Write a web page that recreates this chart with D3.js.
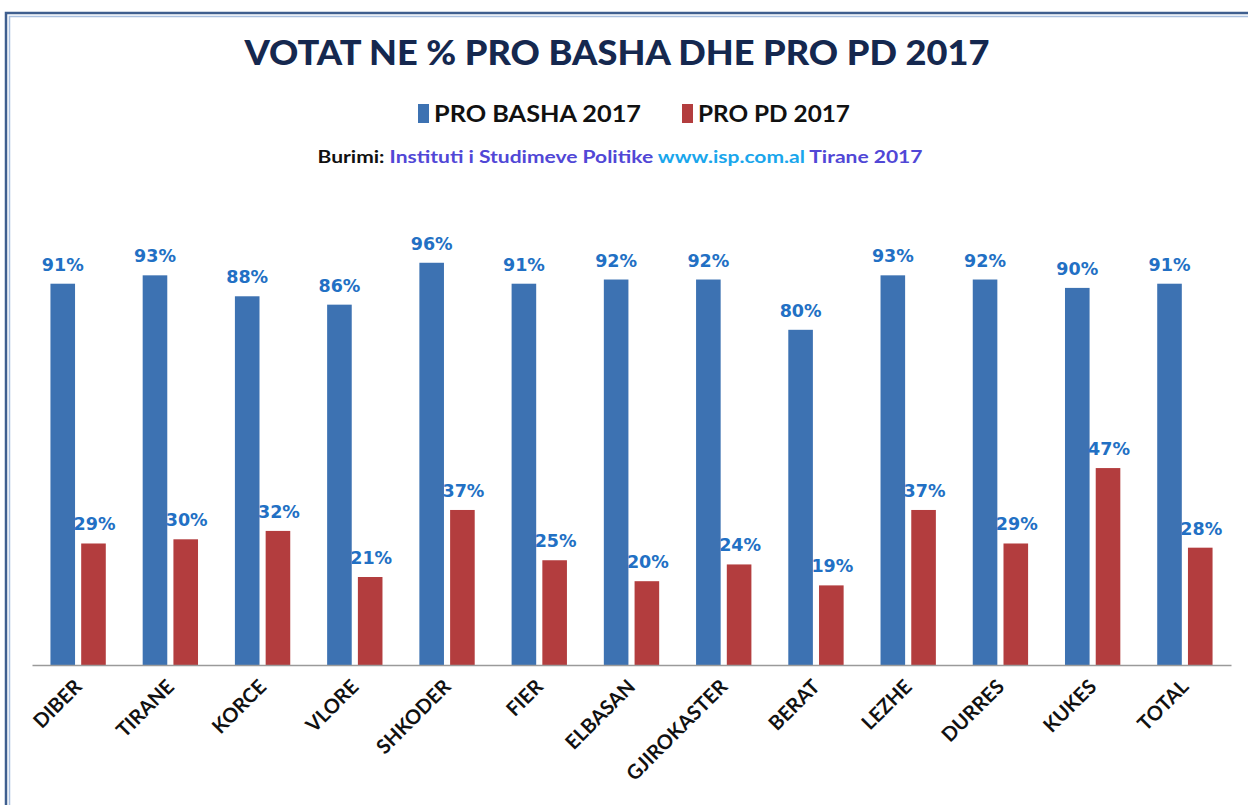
<!DOCTYPE html>
<html><head><meta charset="utf-8">
<script src="https://cdn.jsdelivr.net/npm/d3@7"></script>
<style>body{margin:0;background:#fff;}svg{display:block;}</style>
</head><body>
<script>
const categories = ["DIBER","TIRANE","KORCE","VLORE","SHKODER","FIER","ELBASAN","GJIROKASTER","BERAT","LEZHE","DURRES","KUKES","TOTAL"];
const seriesNames = ["PRO BASHA 2017","PRO PD 2017"];
const proBasha = [91,93,88,86,96,91,92,92,80,93,92,90,91];
const proPD = [29,30,32,21,37,25,20,24,19,37,29,47,28];
const colors = ["#3D72B2","#B33D3E"];
const title = "VOTAT NE % PRO BASHA DHE PRO PD 2017";

const W = 1248, H = 805;
const svg = d3.select("body").append("svg").attr("width", W).attr("height", H);
svg.append("rect").attr("width", W).attr("height", H).attr("fill", "#fff");

// frame
svg.append("path").attr("d", `M6,${H} V13 H${W}`).attr("fill","none").attr("stroke","#3F5F8F").attr("stroke-width",2.5);
svg.append("path").attr("d", `M9.5,${H} V16.5 H${W}`).attr("fill","none").attr("stroke","#A9C0E0").attr("stroke-width",1.5);

const x0 = d3.scaleBand().domain(categories).range([32, 1231]).paddingInner(0.4).paddingOuter(0.2);
const x1 = d3.scaleBand().domain(seriesNames).range([0, x0.bandwidth()]).paddingInner(0.2);
const y = d3.scaleLinear().domain([0, 100]).range([665, 246]);

const data = categories.map((c, i) => ({cat: c, vals: [proBasha[i], proPD[i]]}));

const g = svg.append("g");
const groups = g.selectAll("g.grp").data(data).join("g").attr("transform", d => `translate(${x0(d.cat)},0)`);
groups.selectAll("rect").data(d => d.vals.map((v, k) => ({v, s: seriesNames[k], k})))
  .join("rect")
  .attr("x", d => x1(d.s)).attr("width", x1.bandwidth())
  .attr("y", d => y(d.v)).attr("height", d => y(0) - y(d.v))
  .attr("fill", d => colors[d.k]);
groups.selectAll("text").data(d => d.vals.map((v, k) => ({v, s: seriesNames[k], k})))
  .join("text")
  .attr("x", d => x1(d.s) + x1.bandwidth()/2 + (d.k ? 1 : 0))
  .attr("y", d => y(d.v) - 13)
  .attr("text-anchor","middle")
  .attr("font-family","DejaVu Sans").attr("font-weight","bold").attr("font-size", 17.5)
  .attr("fill","#2270C4")
  .text(d => d.v + "%");

// baseline axis
const xAxis = d3.axisBottom(x0).tickSize(0).tickFormat(() => "");
const ax = svg.append("g").attr("transform", `translate(0,${y(0)})`).call(xAxis);
ax.select(".domain").attr("stroke","#9A9A9A").attr("stroke-width",1.5);

// category labels
svg.append("g").selectAll("text").data(categories).join("text")
  .attr("transform", d => `translate(${x0(d) + x0.bandwidth()/2 + 5},${y(0) + 23}) rotate(-45)`)
  .attr("text-anchor","end")
  .attr("font-family","Lato").attr("font-weight","bold").attr("font-size", 20)
  .attr("fill","#111")
  .text(d => d);

// title
svg.append("text").attr("x", 617).attr("y", 65).attr("text-anchor","middle")
  .attr("font-family","Lato").attr("font-weight","900").attr("font-size", 35)
  .attr("fill","#15284F").attr("textLength", 745).attr("lengthAdjust","spacingAndGlyphs")
  .text(title);

// legend
const legendX = [418, 682];
const legendW = [207, 152];
seriesNames.forEach((s, k) => {
  svg.append("rect").attr("x", legendX[k]).attr("y", 104).attr("width", 11).attr("height", 19).attr("fill", colors[k]);
  svg.append("text").attr("x", legendX[k] + 16).attr("y", 122)
    .attr("font-family","Lato").attr("font-weight","bold").attr("font-size", 23)
    .attr("fill","#111").attr("textLength", legendW[k]).attr("lengthAdjust","spacingAndGlyphs")
    .text(s);
});

// source line
const src = svg.append("text").attr("x", 620).attr("y", 163).attr("text-anchor","middle")
  .attr("font-family","Lato").attr("font-weight","bold").attr("font-size", 16.5)
  .attr("textLength", 605).attr("lengthAdjust","spacingAndGlyphs");
src.append("tspan").attr("fill","#111").text("Burimi: ");
src.append("tspan").attr("fill","#5147D6").text("Instituti i Studimeve Politike ");
src.append("tspan").attr("fill","#1AA6EC").text("www.isp.com.al ");
src.append("tspan").attr("fill","#5147D6").text("Tirane 2017");
</script>
</body></html>
